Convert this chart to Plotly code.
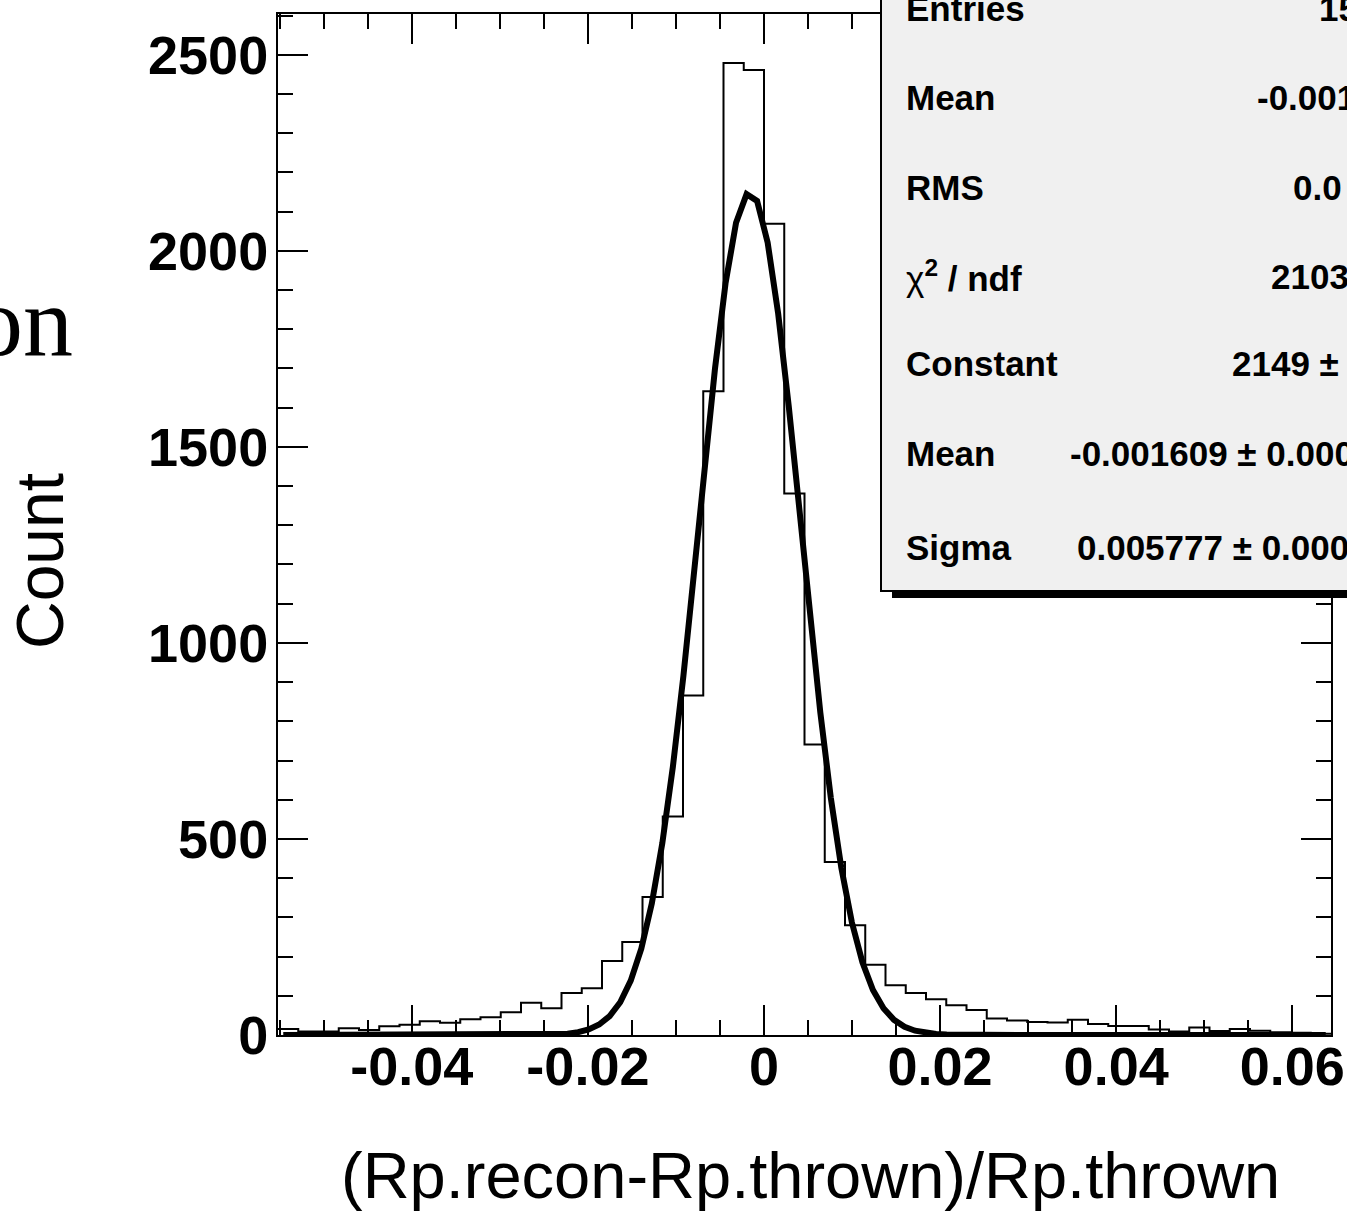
import numpy as np
import plotly.graph_objects as go

# Histogram of relative momentum residuals, 52 fixed-width bins
BIN_LOW = -0.0552
BIN_WIDTH = 0.0023
counts = [15, 9, 9, 17, 13, 22, 26, 35, 31, 40, 45, 58, 82, 68, 107, 119,
          189, 237, 352, 557, 866, 1642, 2479, 2461, 2069, 1381, 741, 441,
          280, 179, 127, 107, 91, 76, 64, 42, 37, 33, 32, 39, 28, 23, 23,
          14, 9, 19, 10, 15, 11, 7, 6, 3]

# Gaussian fit parameters
FIT_CONSTANT = 2149
FIT_MEAN = -0.001609
FIT_SIGMA = 0.005777

x_tick_vals = [-0.04, -0.02, 0, 0.02, 0.04, 0.06]
x_tick_text = ["-0.04", "-0.02", "0", "0.02", "0.04", "0.06"]
y_tick_vals = [0, 500, 1000, 1500, 2000, 2500]
y_tick_text = ["0", "500", "1000", "1500", "2000", "2500"]

stat_names = ["Entries", "Mean", "RMS",
              "<span style='font-weight:normal'>χ</span><sup>2</sup> / ndf",
              "Constant", "Mean", "Sigma"]
stat_values = ["15", "-0.001", "0.0", "2103", "2149 ±",
               "-0.001609 ± 0.000", "0.005777 ± 0.000"]

# ---- geometry of the canvas ----
W, H = 1347, 1213
ML, MR, MT, MB = 278, 16, 14, 178
PW, PH = W - ML - MR, H - MT - MB
X_MIN = BIN_LOW
X_MAX = BIN_LOW + BIN_WIDTH * len(counts)
Y_MAX = 2604


def px(xp):
    return (xp - ML) / PW


def py(yp):
    return (H - MB - yp) / PH


edges = [BIN_LOW + BIN_WIDTH * i for i in range(len(counts) + 1)]
step_y = counts + [counts[-1]]

# fitted function sampled at 100 points (bin centres over the axis range)
npx = 100
dx = (X_MAX - X_MIN) / npx
fit_x = X_MIN + (np.arange(npx) + 0.5) * dx
fit_y = FIT_CONSTANT * np.exp(-0.5 * ((fit_x - FIT_MEAN) / FIT_SIGMA) ** 2)

fig = go.Figure()
fig.add_trace(go.Scatter(
    x=edges, y=step_y, mode="lines", line_shape="hv",
    line=dict(color="black", width=2), hoverinfo="skip"))
fig.add_trace(go.Scatter(
    x=fit_x, y=fit_y, mode="lines",
    line=dict(color="black", width=6), hoverinfo="skip", cliponaxis=False))

tick_font = dict(family="Liberation Sans, Arial, sans-serif", size=54,
                 color="black", weight="bold")

fig.update_xaxes(
    range=[X_MIN, X_MAX], showgrid=False, zeroline=False, automargin=False,
    showline=True, linecolor="black", linewidth=2, mirror="allticks",
    ticks="inside", ticklen=30, tickwidth=2, tickcolor="black",
    tickvals=x_tick_vals, ticktext=x_tick_text, tickfont=tick_font,
    ticklabelstandoff=-17,
    minor=dict(ticks="inside", ticklen=15, tickwidth=2, tickcolor="black",
               dtick=0.005, tick0=0, showgrid=False))
fig.update_yaxes(
    range=[0, Y_MAX], showgrid=False, zeroline=False, automargin=False,
    showline=True, linecolor="black", linewidth=2, mirror="allticks",
    ticks="inside", ticklen=30, tickwidth=2, tickcolor="black",
    tickvals=y_tick_vals, ticktext=y_tick_text, tickfont=tick_font,
    ticklabelstandoff=-3,
    minor=dict(ticks="inside", ticklen=15, tickwidth=2, tickcolor="black",
               dtick=100, tick0=0, showgrid=False))

# statistics box with drop shadow
shapes = [
    dict(type="rect", xref="paper", yref="paper",
         x0=px(892), x1=px(1420), y0=py(598), y1=py(-20),
         fillcolor="black", line=dict(width=0), layer="above"),
    dict(type="rect", xref="paper", yref="paper",
         x0=px(881), x1=px(1410), y0=py(591), y1=py(-30),
         fillcolor="#f0f0f0", line=dict(color="black", width=2), layer="above"),
]

stat_font = dict(family="Liberation Sans, Arial, sans-serif", size=35,
                 color="black", weight="bold")
row_y = [9, 97, 188, 276, 364, 453, 547]
value_x = [1317, 1255, 1291, 1269, 1230, 1068, 1075]

annotations = []
for name, val, yy, vx in zip(stat_names, stat_values, row_y, value_x):
    annotations.append(dict(text=name, x=px(904), y=py(yy), xref="paper",
                            yref="paper", xanchor="left", yanchor="middle",
                            showarrow=False, font=stat_font))
    annotations.append(dict(text=val, x=px(vx), y=py(yy), xref="paper",
                            yref="paper", xanchor="left", yanchor="middle",
                            showarrow=False, font=stat_font))

annotations.append(dict(
    text="(Rp.recon-Rp.thrown)/Rp.thrown", x=px(810), y=py(1175),
    xref="paper", yref="paper", xanchor="center", yanchor="middle",
    showarrow=False,
    font=dict(family="Liberation Sans, Arial, sans-serif", size=65,
              color="black")))
annotations.append(dict(
    text="Count", x=px(40), y=py(561), xref="paper", yref="paper",
    xanchor="center", yanchor="middle", textangle=-90, showarrow=False,
    font=dict(family="Liberation Sans, Arial, sans-serif", size=66,
              color="black")))
annotations.append(dict(
    text="on", x=px(75), y=py(322), xref="paper", yref="paper",
    xanchor="right", yanchor="middle", showarrow=False,
    font=dict(family="Liberation Serif, Times New Roman, serif", size=100,
              color="black")))

fig.update_layout(
    width=W, height=H, margin=dict(l=ML, r=MR, t=MT, b=MB, pad=0),
    paper_bgcolor="white", plot_bgcolor="white", showlegend=False,
    shapes=shapes, annotations=annotations)

fig.write_html("out.html")
